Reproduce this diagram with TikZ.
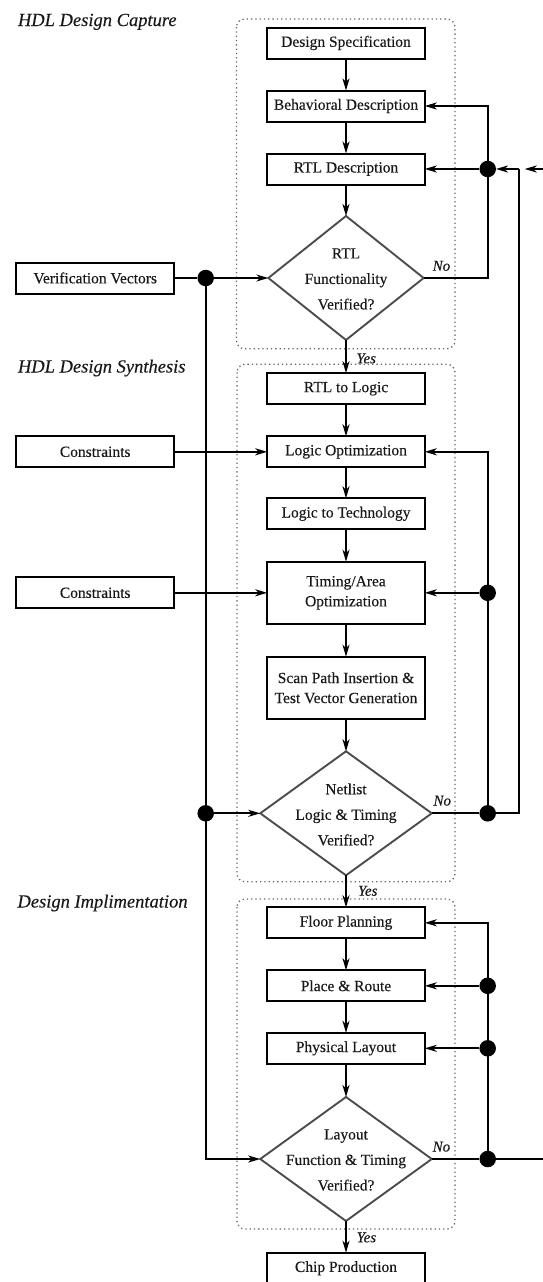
\documentclass[tikz,border=0pt]{standalone}
\usepackage{fontspec}
\setmainfont{Liberation Serif}[FakeBold=0.3]
\usetikzlibrary{arrows.meta,shapes.geometric}
\begin{document}
\begin{tikzpicture}[x=1pt,y=-1pt,
  every node/.style={outer sep=0pt, inner sep=0pt},
  txt/.style={font=\fontsize{15.5}{20}\selectfont, text=black!90},
  stepbox/.style={draw, line width=2pt, minimum width=157.5pt, minimum height=31pt, txt, align=center},
  tallbox/.style={stepbox, minimum height=62.3pt},
  decision/.style={diamond, draw=black!70, line width=1.9pt, minimum width=#1, minimum height=124pt},
  dtext/.style={font=\fontsize{15.5}{25.5}\selectfont, text=black!90, align=center},
  jdot/.style={circle, fill=black, minimum size=16.5pt},
  link/.style={line width=1.7pt},
  arr/.style={link, -{Stealth[length=12pt,width=7pt,inset=3.5pt]}},
  phase/.style={font=\fontsize{18.5}{22}\selectfont\itshape, text=black!90, anchor=base west},
  tag/.style={font=\fontsize{15}{18}\selectfont\itshape, text=black!90, anchor=base west},
  group/.style={draw=black!60, line width=1.3pt, dash pattern=on 1.3pt off 3pt, rounded corners=8pt}
]
\useasboundingbox (0,0) rectangle (543,1282);
\clip (0,0) rectangle (543,1282);

% phase containers
\draw[group] (236.5,19) rectangle (455,348.7);
\draw[group] (237,364.3) rectangle (455,881.7);
\draw[group] (237,899) rectangle (455,1229);

% phase titles
\node[phase] (tcap) at (18,26) {HDL Design Capture};
\node[phase] (tsyn) at (18,372.5) {HDL Design Synthesis};
\node[phase] (timp) at (17.5,907.5) {Design Implimentation};

% main flow
\node[stepbox] (ds)   at (346,43)     {Design Specification};
\node[stepbox] (bd)   at (346,106)    {Behavioral Description};
\node[stepbox] (rtl)  at (346,169)    {RTL Description};
\node[decision=155.3pt] (d1) at (346,278) {};
\node[dtext] (d1t) at (346,279) {RTL\\Functionality\\Verified?};

\node[stepbox] (r2l)  at (346,388.7)  {RTL to Logic};
\node[stepbox] (lopt) at (346,451.8)  {Logic Optimization};
\node[stepbox] (l2t)  at (346,513.8)  {Logic to Technology};
\node[tallbox] (ta)   at (346,592.8)  {Timing/Area\\Optimization};
\node[tallbox] (scan) at (346,687.8)  {Scan Path Insertion \&\\Test Vector Generation};
\node[decision=171.5pt] (d2) at (346,813.3) {};
\node[dtext] (d2t) at (346,814.5) {Netlist\\Logic \& Timing\\Verified?};

\node[stepbox] (fp)   at (346,922.8)  {Floor Planning};
\node[stepbox] (pr)   at (346,985.8)  {Place \& Route};
\node[stepbox] (pl)   at (346,1048.3) {Physical Layout};
\node[decision=171.5pt] (d3) at (346,1159) {};
\node[dtext] (d3t) at (346,1160) {Layout\\Function \& Timing\\Verified?};
\node[stepbox] (chip) at (346,1268.2) {Chip Production};

% side inputs
\node[stepbox] (vv) at (95.2,278)   {Verification Vectors};
\node[stepbox] (c1) at (95.2,451.8) {Constraints};
\node[stepbox] (c2) at (95.2,592.8) {Constraints};

% junctions
\node[jdot] (jv) at (205.7,278) {};
\node[jdot] (jw) at (205.7,813.3) {};
\node[jdot] (ja) at (487.7,169) {};
\node[jdot] (jt) at (487.7,592.8) {};
\node[jdot] (jn) at (487.7,813.3) {};
\node[jdot] (jp) at (487.7,985.8) {};
\node[jdot] (jq) at (487.7,1048.3) {};
\node[jdot] (jl) at (487.7,1159) {};
\coordinate (jb) at (518.7,169);
\coordinate (eb) at (560,1159);
\coordinate (et) at (560,169);

% main flow arrows
\draw[arr] (ds) -- (bd);
\draw[arr] (bd) -- (rtl);
\draw[arr] (rtl) -- (d1.north);
\draw[arr] (d1.south) -- (r2l);
\draw[arr] (r2l) -- (lopt);
\draw[arr] (lopt) -- (l2t);
\draw[arr] (l2t) -- (ta);
\draw[arr] (ta) -- (scan);
\draw[arr] (scan) -- (d2.north);
\draw[arr] (d2.south) -- (fp);
\draw[arr] (fp) -- (pr);
\draw[arr] (pr) -- (pl);
\draw[arr] (pl) -- (d3.north);
\draw[arr] (d3.south) -- (chip);

% decision labels
\node[tag] (y1) at (356.5,363.3) {Yes};
\node[tag] (y2) at (358,895.7) {Yes};
\node[tag] (y3) at (356.7,1242.3) {Yes};
\node[tag] (n1) at (432.7,270.7) {No};
\node[tag] (n2) at (433.5,805.5) {No};
\node[tag] (n3) at (432.7,1151.5) {No};

% left side: vectors and constraints
\draw[link] (vv.east) -- (jv);
\draw[arr] (jv) -- (d1.west);
\draw[link] (jv.center) -- (jw.center);
\draw[arr] (jw) -- (d2.west);
\draw[arr] (jw.center) |- (d3.west);
\draw[arr] (c1.east) -- (lopt.west);
\draw[arr] (c2.east) -- (ta.west);

% right side: feedback loops
\draw[arr] (d1.east) -| (ja.center) |- (bd.east);
\draw[arr] (ja) -- (rtl.east);
\draw[link] (d2.east) -- (jn);
\draw[arr] (jn.center) |- (lopt.east);
\draw[arr] (jt) -- (ta.east);
\draw[link] (jn.center) -| (jb);
\draw[arr] (jb) -- (ja);
\draw[link] (d3.east) -- (jl);
\draw[arr] (jl.center) |- (fp.east);
\draw[arr] (jp) -- (pr.east);
\draw[arr] (jq) -- (pl.east);
\draw[arr, shorten >=6pt] (jl.center) -- (eb) -- (et) -- (jb);
\end{tikzpicture}
\end{document}
